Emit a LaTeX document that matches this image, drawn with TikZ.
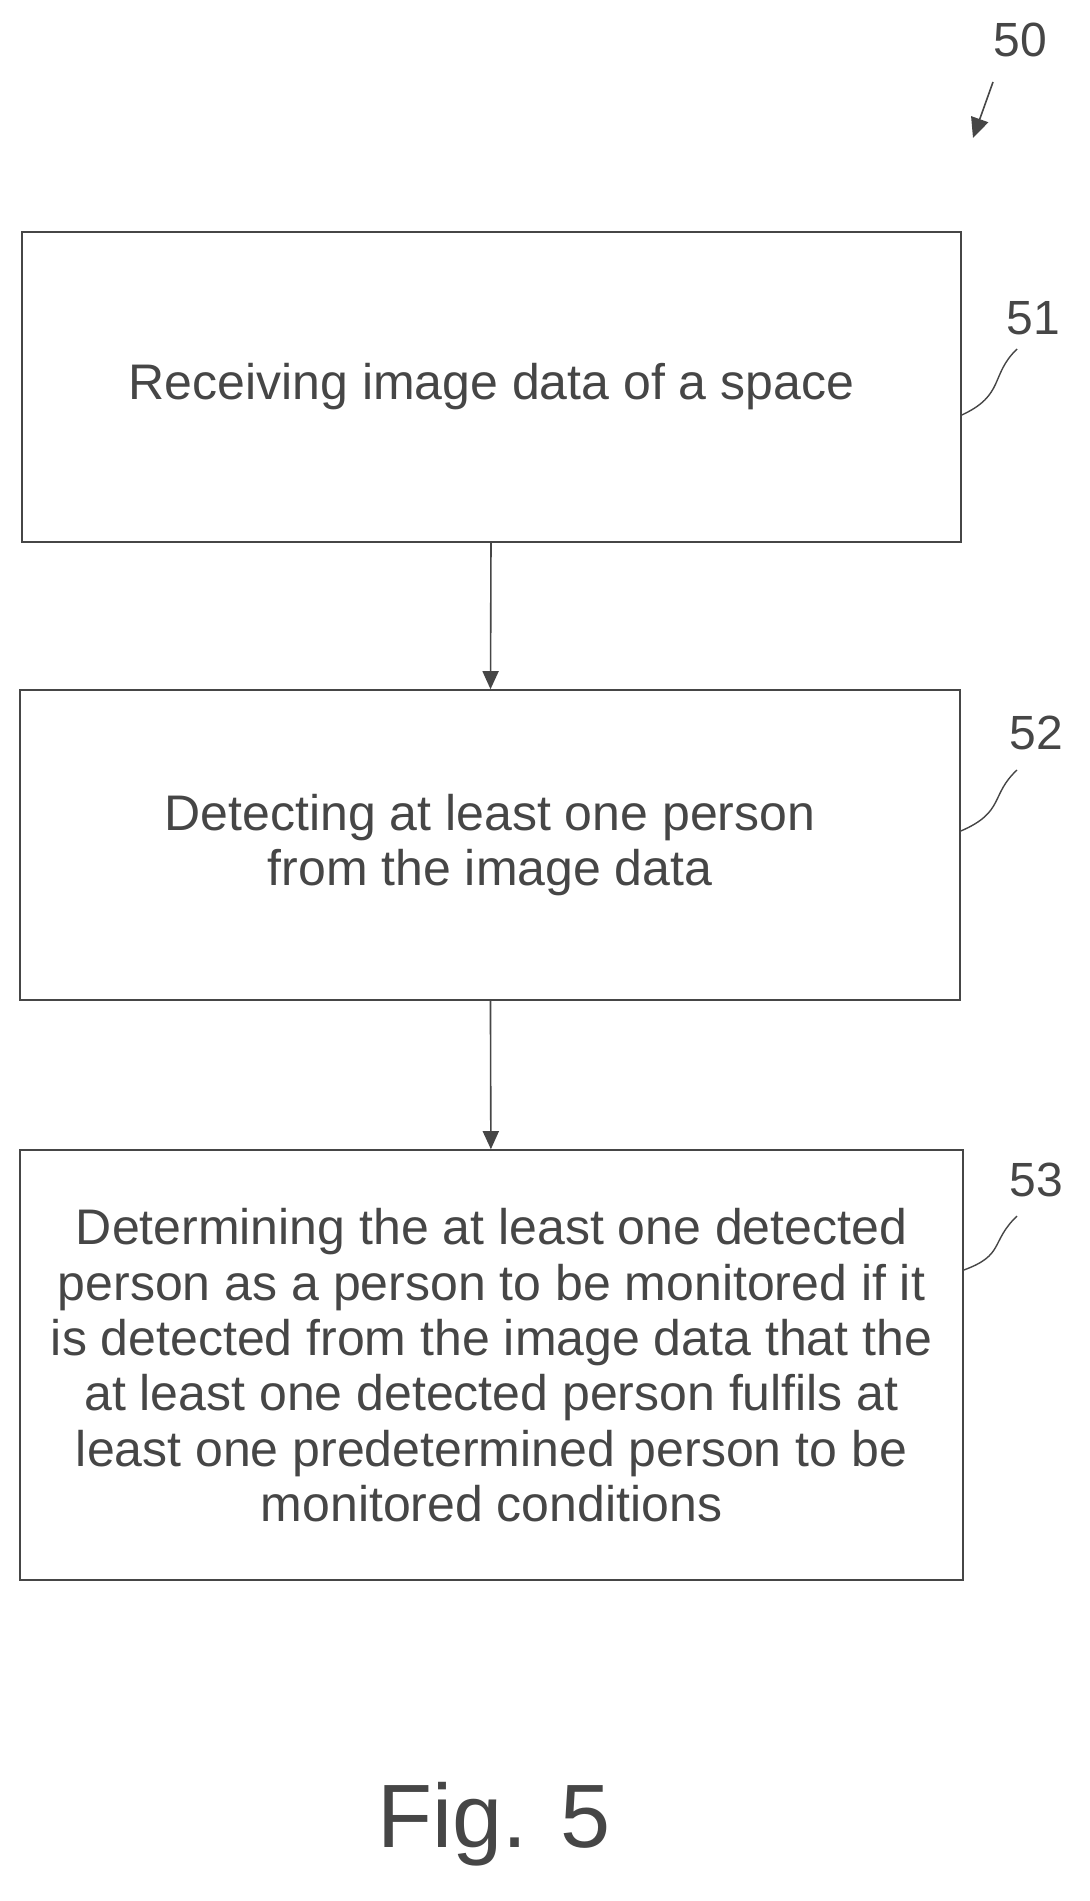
\documentclass[tikz,border=0pt]{standalone}
\usepackage{fontspec}
\setmainfont{Liberation Sans}
\usetikzlibrary{arrows.meta,positioning}
\definecolor{inkgray}{RGB}{70,70,70}

\begin{document}
\begin{tikzpicture}[
    x=0.5pt, y=-0.5pt,
    stepbox/.style={rectangle, draw=inkgray, line width=0.8pt, align=center, inner sep=0pt, font=\fontsize{25}{27.7}\selectfont, text=inkgray},
    ref/.style={font=\fontsize{24}{28}\selectfont, text=inkgray},
    arrow/.style={-{Triangle[length=9pt,width=8pt]}, draw=inkgray, line width=0.8pt},
    lead/.style={draw=inkgray, line width=0.7pt}
]
    \useasboundingbox (0,0) rectangle (1090,1901);
    % steps
    \node[stepbox, minimum width=469.5pt, minimum height=155pt] (s51) at (491.5,387) {Receiving image data of a space};
    \node[stepbox, minimum width=470pt, minimum height=155pt] (s52) at (490,845) {Detecting at least one person\\from the image data};
    \node[stepbox, minimum width=471.5pt, minimum height=215pt, text depth=0pt] (s53) at (491.5,1365) {Determining the at least one detected\\person as a person to be monitored if it\\is detected from the image data that the\\at least one detected person fulfils at\\least one predetermined person to be\\monitored conditions};

    \draw[arrow] (s51) -- (s52);
    \draw[arrow] (s52) -- (s53);

    % reference numerals
    \node[ref] (n50) at (1020,40) {50};
    \coordinate (a50) at (993,82);
    \coordinate (b50) at (973,138);
    \draw[arrow, -{Triangle[length=10pt,width=9pt]}] (a50) -- (b50);

    \node[ref] (n51) at (1033,318) {51};
    \draw[lead] (1017,349) .. controls (990,375) and (1005,395) .. (s51.east |- 0,415);
    \node[ref] (n52) at (1036,733) {52};
    \draw[lead] (1017,770) .. controls (990,795) and (1005,812) .. (s52.east |- 0,831);
    \node[ref] (n53) at (1036,1180) {53};
    \draw[lead] (1017,1216) .. controls (990,1242) and (1005,1255) .. (s53.east |- 0,1270);

    \node[font=\fontsize{45}{54}\selectfont, text=inkgray] (fig) at (494,1824) {Fig. 5};
\end{tikzpicture}
\end{document}
